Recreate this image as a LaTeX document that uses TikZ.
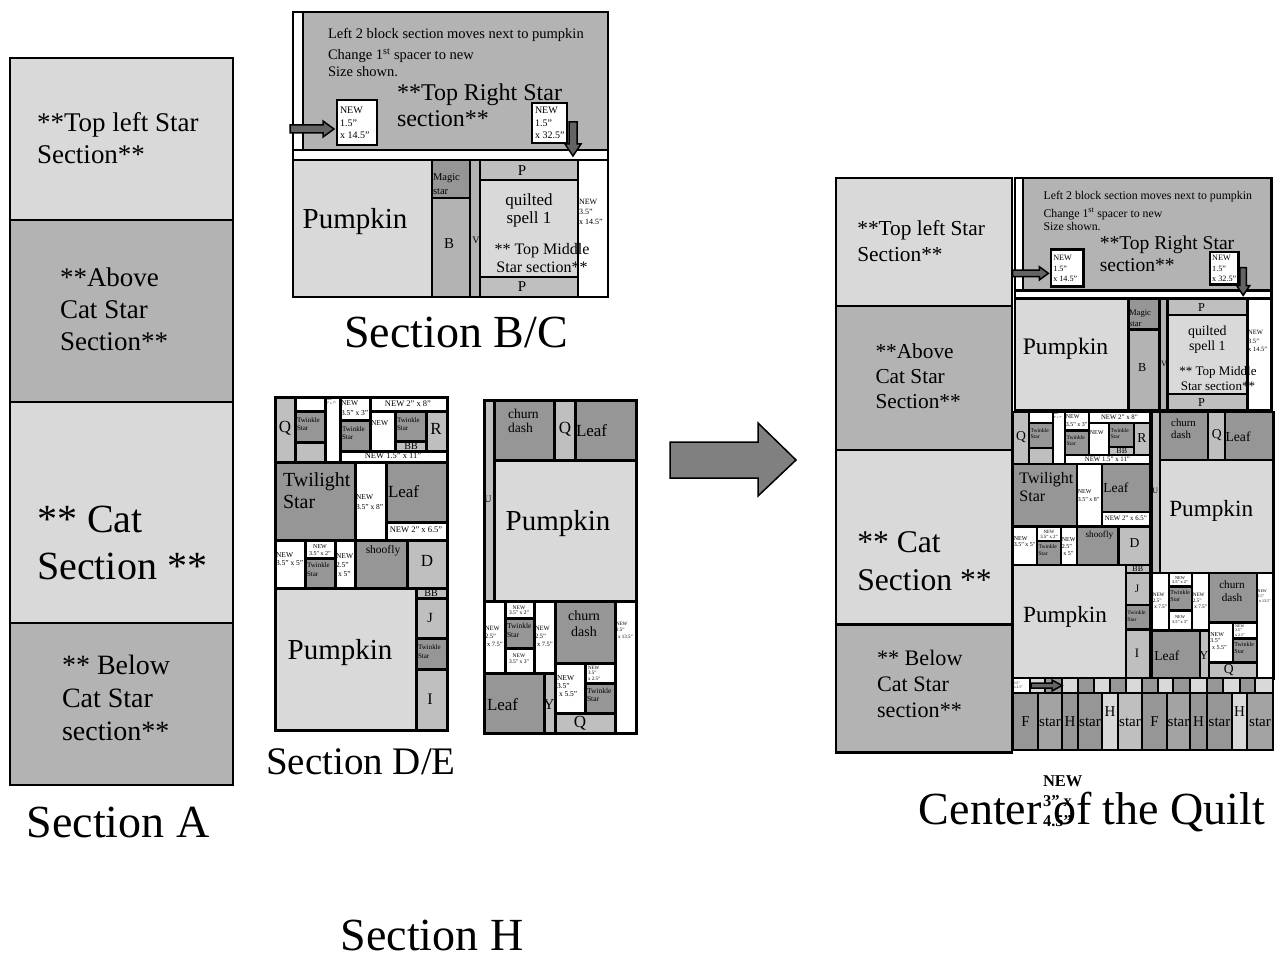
\documentclass[tikz,border=0pt]{standalone}
\usepackage{fontspec}
\setmainfont{Liberation Serif}
\definecolor{lg}{RGB}{217,217,217}
\definecolor{mg}{RGB}{179,179,179}
\definecolor{qg}{RGB}{191,191,191}
\definecolor{dg}{RGB}{150,150,150}
\definecolor{sg}{RGB}{163,163,163}
\definecolor{ag}{RGB}{128,128,128}
\definecolor{arr}{RGB}{100,100,100}
\newcommand{\ff}[2]{\fontsize{#1}{#2}\selectfont}
\tikzset{
  bx/.style={draw=black, line width=2.5pt},
  abox/.style={draw=black, line width=1.5pt},
  txt/.style={inner sep=0pt, outer sep=0pt, align=left, text=black},
  ctxt/.style={inner sep=0pt, outer sep=0pt, align=center, text=black},
  blockarrow/.style={draw=black, line width=1.5pt, fill=arr, line join=miter},
}
\newcommand{\qbox}[5]{\draw[bx,fill=#1] (#2,#3) rectangle (#4,#5);}

% ---------- Section A ----------
\newcommand{\qSecA}[1]{%
 \draw[abox,fill=lg] (10,58) rectangle (233,220);
 \draw[abox,fill=mg] (10,220) rectangle (233,402);
 \draw[abox,fill=lg] (10,402) rectangle (233,623);
 \draw[abox,fill=mg] (10,623) rectangle (233,785);
 \node[txt,anchor=west,font=\ff{27}{32}] (#1-tl) at (37,138) {**Top left Star\\Section**};
 \node[txt,anchor=west,font=\ff{27}{32}] (#1-ac) at (60,309) {**Above\\Cat Star\\Section**};
 \node[txt,anchor=west,font=\ff{40}{47}] (#1-cat) at (37,543) {** Cat\\Section **};
 \node[txt,anchor=west,font=\ff{28}{33}] (#1-bc) at (62,698) {** Below\\Cat Star\\section**};
}

% ---------- Section B/C ----------
\newcommand{\qSecBC}[1]{%
 \qbox{white}{293}{12}{303}{150}
 \qbox{mg}{303}{12}{608}{150}
 \qbox{white}{293}{150}{608}{160}
 \qbox{lg}{293}{160}{432}{297}
 \qbox{dg}{432}{160}{470}{198}
 \qbox{mg}{432}{198}{470}{297}
 \qbox{mg}{470}{160}{480}{297}
 \qbox{qg}{480}{160}{578}{180}
 \qbox{lg}{480}{180}{578}{277}
 \qbox{qg}{480}{277}{578}{297}
 \qbox{white}{578}{160}{608}{297}
 \draw[bx] (293,12) rectangle (608,297);
 \node[txt,anchor=west,font=\ff{14.5}{16}] (#1-l1) at (328,35) {Left 2 block section moves next to pumpkin};
 \node[txt,anchor=west,font=\ff{14.5}{16}] (#1-l2) at (328,56) {Change 1\textsuperscript{st} spacer to new};
 \node[txt,anchor=west,font=\ff{14.5}{16}] (#1-l3) at (328,72) {Size shown.};
 \node[txt,anchor=west,font=\ff{24}{26}] (#1-trs) at (397,105) {**Top Right Star\\section**};
 \qbox{white}{337}{100}{377}{145}
 \node[txt,anchor=west,font=\ff{10}{12.5}] (#1-n1) at (340,123) {NEW\\1.5”\\x 14.5”};
 \qbox{white}{532}{103}{567}{143}
 \node[txt,anchor=west,font=\ff{10}{12.5}] (#1-n2) at (535,123) {NEW\\1.5”\\x 32.5”};
 \draw[blockarrow] (290,125) -- (323,125) -- (323,121) -- (334,129) -- (323,137) -- (323,133) -- (290,133) -- cycle;
 \draw[blockarrow] (569,122) -- (577,122) -- (577,144) -- (581,144) -- (573,156) -- (565,144) -- (569,144) -- cycle;
 \node[ctxt,font=\ff{29}{30}] (#1-pk) at (355,222) {Pumpkin};
 \node[txt,anchor=west,font=\ff{10.5}{14}] (#1-ms) at (433,184) {Magic\\star};
 \node[ctxt,font=\ff{15}{15}] (#1-b) at (449,244) {B};
 \node[ctxt,font=\ff{10}{10}] (#1-v) at (476,240) {V};
 \node[ctxt,font=\ff{15}{15}] (#1-p1) at (522,171) {P};
 \node[ctxt,font=\ff{17}{18}] (#1-qs) at (529,210) {quilted\\spell 1};
 \node[ctxt,font=\ff{16}{18}] (#1-tm) at (542,258) {** Top Middle\\Star section**};
 \node[txt,anchor=west,font=\ff{8}{10}] (#1-n3) at (579,212) {NEW\\3.5”\\x 14.5”};
 \node[ctxt,font=\ff{15}{15}] (#1-p2) at (522,287) {P};
}

% ---------- Section D/E left ----------
\newcommand{\qSecDEl}[1]{%
 \qbox{qg}{275}{397}{295}{462}
 \qbox{white}{295}{397}{325}{411}
 \qbox{dg}{295}{411}{325}{442}
 \qbox{qg}{295}{442}{325}{462}
 \qbox{white}{325}{397}{340}{462}
 \qbox{white}{340}{397}{370}{420}
 \qbox{dg}{340}{420}{370}{451}
 \qbox{white}{370}{397}{447}{411}
 \qbox{white}{370}{411}{395}{451}
 \qbox{dg}{395}{411}{426}{441}
 \qbox{qg}{395}{441}{426}{451}
 \qbox{qg}{426}{411}{447}{451}
 \qbox{white}{340}{451}{447}{462}
 \qbox{dg}{275}{462}{355}{540}
 \qbox{white}{355}{462}{386}{540}
 \qbox{dg}{386}{462}{447}{522}
 \qbox{white}{386}{522}{447}{540}
 \qbox{white}{275}{540}{305}{588}
 \qbox{white}{305}{540}{335}{558}
 \qbox{dg}{305}{558}{335}{588}
 \qbox{white}{335}{540}{355}{588}
 \qbox{dg}{355}{540}{407}{588}
 \qbox{qg}{407}{540}{447}{588}
 \qbox{lg}{275}{588}{416}{730}
 \qbox{qg}{416}{588}{447}{598}
 \qbox{qg}{416}{598}{447}{638}
 \qbox{dg}{416}{638}{447}{669}
 \qbox{qg}{416}{669}{447}{730}
 \draw[bx] (275,397) rectangle (447,730);
 \node[ctxt,font=\ff{17}{18}] (#1-q) at (285,428) {Q};
 \node[txt,anchor=west,font=\ff{7}{8}] (#1-t1) at (297,424) {Twinkle\\Star};
 \node[txt,anchor=north west,font=\ff{3.5}{4}] (#1-n0) at (326,399) {new\\2” x 7”};
 \node[txt,anchor=west,font=\ff{7.5}{10}] (#1-n1) at (341,408) {NEW\\3.5” x 3”};
 \node[txt,anchor=west,font=\ff{7}{8}] (#1-t2) at (342,433) {Twinkle\\Star};
 \node[ctxt,font=\ff{8.5}{9}] (#1-n2) at (408,404) {NEW 2” x 8”};
 \node[txt,anchor=west,font=\ff{7.5}{8}] (#1-n3) at (371,423) {NEW};
 \node[txt,anchor=west,font=\ff{7}{8}] (#1-t3) at (397,424) {Twinkle\\Star};
 \node[ctxt,font=\ff{10}{10}] (#1-bb) at (411,446) {BB};
 \node[ctxt,font=\ff{17}{18}] (#1-r) at (436,429) {R};
 \node[ctxt,font=\ff{8.5}{9}] (#1-n4) at (393,456) {NEW 1.5” x 11”};
 \node[txt,anchor=west,font=\ff{20}{22}] (#1-tw) at (283,491) {Twilight\\Star};
 \node[txt,anchor=west,font=\ff{7.5}{10}] (#1-n5) at (356,502) {NEW\\3.5” x 8”};
 \node[txt,anchor=west,font=\ff{17}{18}] (#1-lf) at (388,492) {Leaf};
 \node[ctxt,font=\ff{8.5}{9}] (#1-n6) at (416,530) {NEW 2” x 6.5”};
 \node[txt,anchor=west,font=\ff{7.5}{8.5}] (#1-n7) at (276,559) {NEW\\3.5” x 5”};
 \node[ctxt,font=\ff{6}{6.5}] (#1-n8) at (320,550) {NEW\\3.5” x 2”};
 \node[txt,anchor=west,font=\ff{7}{9}] (#1-t4) at (307,570) {Twinkle\\Star};
 \node[txt,anchor=west,font=\ff{7.5}{9}] (#1-n9) at (336,565) {NEW\\2.5”\\\hspace{2pt}x 5”};
 \node[ctxt,font=\ff{11.5}{12}] (#1-sh) at (383,551) {shoofly};
 \node[ctxt,font=\ff{17}{18}] (#1-d) at (427,561) {D};
 \node[ctxt,font=\ff{29}{30}] (#1-pk) at (340,653) {Pumpkin};
 \node[ctxt,font=\ff{10}{10}] (#1-bb2) at (431,593) {BB};
 \node[ctxt,font=\ff{14}{14}] (#1-j) at (430,618) {J};
 \node[txt,anchor=west,font=\ff{7}{9}] (#1-t5) at (418,652) {Twinkle\\Star};
 \node[ctxt,font=\ff{16}{16}] (#1-i) at (430,699) {I};
}

% ---------- Section D/E right ----------
\newcommand{\qSecDEr}[1]{%
 \qbox{qg}{484}{400}{494}{601}
 \qbox{dg}{494}{400}{554}{460}
 \qbox{qg}{554}{400}{575}{460}
 \qbox{dg}{575}{400}{636}{460}
 \qbox{lg}{494}{460}{636}{601}
 \qbox{white}{484}{601}{505}{673}
 \qbox{white}{505}{601}{534}{618}
 \qbox{dg}{505}{618}{534}{648}
 \qbox{white}{505}{648}{534}{673}
 \qbox{white}{534}{601}{555}{673}
 \qbox{dg}{555}{601}{615}{663}
 \qbox{white}{615}{601}{636}{733}
 \qbox{dg}{484}{673}{544}{733}
 \qbox{qg}{544}{673}{555}{733}
 \qbox{white}{555}{663}{585}{713}
 \qbox{white}{585}{663}{615}{683}
 \qbox{dg}{585}{683}{615}{713}
 \qbox{qg}{555}{713}{615}{733}
 \draw[bx] (484,400) rectangle (636,733);
 \node[txt,anchor=west,font=\ff{13.5}{14.5}] (#1-cd1) at (508,421) {churn\\dash};
 \node[ctxt,font=\ff{17}{18}] (#1-q1) at (565,429) {Q};
 \node[txt,anchor=west,font=\ff{17}{18}] (#1-lf1) at (576,431) {Leaf};
 \node[ctxt,font=\ff{10}{10}] (#1-u) at (488,499) {U};
 \node[ctxt,font=\ff{29}{30}] (#1-pk) at (558,524) {Pumpkin};
 \node[txt,anchor=west,font=\ff{6.5}{8}] (#1-n1) at (485,636) {NEW\\2.5”\\\hspace{2pt}x 7.5”};
 \node[ctxt,font=\ff{5.5}{5.5}] (#1-n2) at (519,610) {NEW\\3.5” x 2”};
 \node[txt,anchor=west,font=\ff{7.5}{9}] (#1-t1) at (507,630) {Twinkle\\Star};
 \node[ctxt,font=\ff{5.5}{6}] (#1-n3) at (519,659) {NEW\\3.5” x 3”};
 \node[txt,anchor=west,font=\ff{6.5}{8}] (#1-n4) at (535,636) {NEW\\2.5”\\\hspace{2pt}x 7.5”};
 \node[ctxt,font=\ff{14}{16}] (#1-cd2) at (584,624) {churn\\dash};
 \node[txt,anchor=west,font=\ff{5}{6.5}] (#1-n5) at (616,630) {NEW\\2.5”\\\hspace{2pt}x 13.5”};
 \node[txt,anchor=west,font=\ff{17}{18}] (#1-lf2) at (487,705) {Leaf};
 \node[ctxt,font=\ff{15}{15}] (#1-y) at (549,705) {Y};
 \node[txt,anchor=west,font=\ff{7.5}{8}] (#1-n6) at (557,686) {NEW\\3.5”\\\hspace{2pt}x 5.5”};
 \node[txt,anchor=west,font=\ff{5}{5.5}] (#1-n7) at (588,673) {NEW\\3.5”\\x 2.5”};
 \node[txt,anchor=west,font=\ff{7.5}{8}] (#1-t2) at (587,695) {Twinkle\\Star};
 \node[ctxt,font=\ff{17}{18}] (#1-q2) at (580,723) {Q};
}

\begin{document}
\begin{tikzpicture}[x=1pt,y=-1pt]
\useasboundingbox (0,0) rectangle (1280,979);
\fill[white] (0,0) rectangle (1280,979);

% left-hand sections
\qSecA{a}
\qSecBC{bc}
\begin{scope}[bx/.style={draw=black,line width=3pt}]
\qSecDEl{del}
\qSecDEr{der}
\end{scope}

% labels
\node[ctxt,font=\ff{46}{48}] (lblA) at (118,822) {Section A};
\node[ctxt,font=\ff{46}{48}] (lblBC) at (456,332) {Section B/C};
\node[ctxt,font=\ff{39}{40}] (lblDE) at (361,762) {Section D/E};
\node[ctxt,font=\ff{46}{48}] (lblH) at (432,935) {Section H};

% big arrow
\draw[line width=1.5pt, fill=ag, line join=miter] (670,442) -- (758,442) -- (758,423) -- (796,460) -- (758,496) -- (758,478) -- (670,478) -- cycle;

% ---------- Center of the quilt ----------
\begin{scope}[shift={(828.1,132.2)},scale=0.79,transform shape,abox/.style={draw=black,line width=2.5pt}]
\qSecA{ca}
\end{scope}
\begin{scope}[shift={(776.2,168.2)},scale=0.815,transform shape]
\qSecBC{cbc}
\end{scope}
\begin{scope}[shift={(793,94.4)},scale=0.8,transform shape]
\qSecDEl{cdel}
\end{scope}
\begin{scope}[shift={(764.8,92)},scale=0.8,transform shape]
\qSecDEr{cder}
\end{scope}

% H row
\qbox{white}{1013}{678}{1030}{693}
\node[txt,anchor=west,font=\ff{3.5}{4}] (hnew) at (1014,685.5) {2.5”\\x 2.5”};
\foreach \a/\b/\c in {1030/1045/lg,1045/1062/dg,1062/1078/lg,1078/1094/dg,1094/1110/lg,1110/1126/dg,1126/1142/lg,1142/1158/dg,1158/1173/lg,1173/1190/dg,1190/1207/lg,1207/1223/dg,1223/1240/lg,1240/1255/dg,1255/1273/lg}
  {\qbox{\c}{\a}{678}{\b}{693}}
\draw[blockarrow] (1031,683) -- (1052,683) -- (1052,680) -- (1062,685.5) -- (1052,691) -- (1052,688) -- (1031,688) -- cycle;
\foreach \a/\b/\c/\t/\yy in {1013/1038/dg/F/722,1038/1062/sg/star/722,1062/1078/dg/H/722,1078/1102/dg/star/722,1102/1118/lg/H/712,1118/1142/qg/star/722,1142/1167/dg/F/722,1167/1190/sg/star/722,1190/1207/dg/H/722,1207/1232/dg/star/722,1232/1247/lg/H/712,1247/1273/sg/star/722}
  {\qbox{\c}{\a}{693}{\b}{750}
   \node[ctxt,font=\ff{15}{15}] (h\a) at ({(\a+\b)/2},\yy) {\t};}
\draw[bx] (1013,678) rectangle (1273,750);

\node[ctxt,font=\ff{46}{48}] (lblC) at (1092,812) {Center of the Quilt};
\node[txt,anchor=west,font=\bfseries\ff{16.5}{20}] (lblN) at (1043,801) {NEW\\3” x\\4.5”};
\end{tikzpicture}
\end{document}
